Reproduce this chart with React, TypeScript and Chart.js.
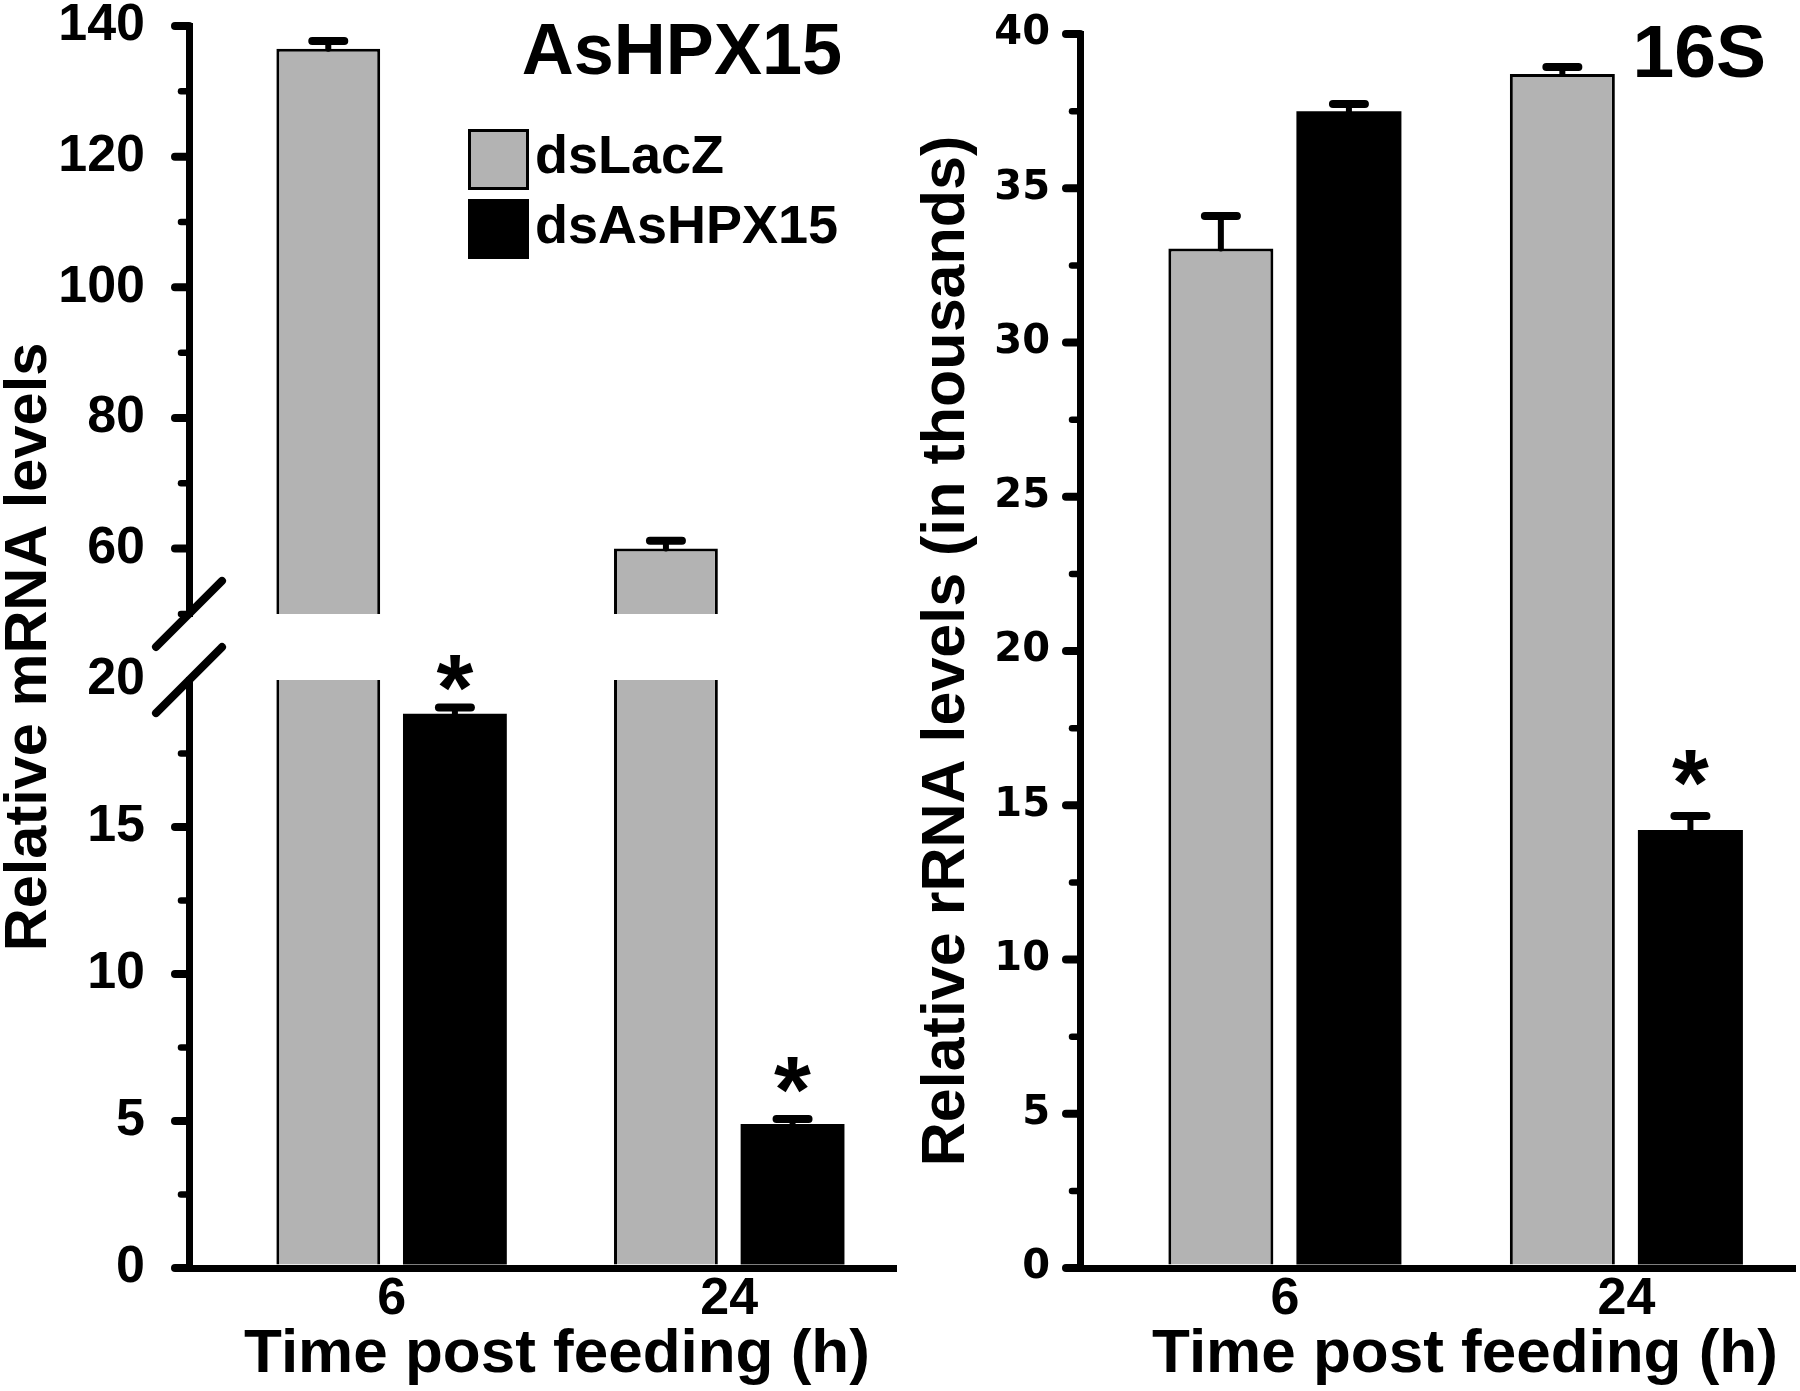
import React, { useEffect, useRef } from 'react';
import { Chart, registerables } from 'chart.js';

Chart.register(...registerables);

const FAMILY = "'Liberation Sans', Arial, Helvetica, sans-serif";
const WIDE = "'DejaVu Sans', 'Liberation Sans', sans-serif";

// ---------------- data ----------------
const categories = ['6', '24'];
const xPositions = [0, 1];
const seriesNames = ['dsLacZ', 'dsAsHPX15'];

// Left panel: AsHPX15, relative mRNA levels
const mrnaLacZ = [136.5, 60.0];
const mrnaLacZErr = [1.2, 1.2];
const mrnaHpx = [18.85, 4.9];
const mrnaHpxErr = [0.22, 0.17];
const mrnaHpxSignificant = [true, true];

// Right panel: 16S, relative rRNA levels (in thousands)
const rrnaLacZ = [33.05, 38.7];
const rrnaLacZErr = [1.05, 0.23];
const rrnaHpx = [37.5, 14.2];
const rrnaHpxErr = [0.23, 0.45];
const rrnaHpxSignificant = [false, true];

// axis ranges and tick values
const mrnaUpperRange = [50, 140];
const mrnaLowerRange = [0, 20];
const rrnaRange = [0, 40];
const mrnaUpperTicks = [60, 80, 100, 120, 140];
const mrnaUpperMinorTicks = [50, 70, 90, 110, 130];
const mrnaLowerTicks = [0, 5, 10, 15, 20];
const mrnaLowerTickMarks = [0, 5, 10, 15];
const mrnaLowerMinorTicks = [2.5, 7.5, 12.5, 17.5];
const rrnaTicks = [0, 5, 10, 15, 20, 25, 30, 35, 40];
const rrnaMinorTicks = [2.5, 7.5, 12.5, 17.5, 22.5, 27.5, 32.5, 37.5];

const panelTitles = ['AsHPX15', '16S'];
const xTitle = 'Time post feeding (h)';
const yTitles = ['Relative mRNA levels', 'Relative rRNA levels (in thousands)'];

// ---------------- styles ----------------
const GRAY = '#b3b3b3';
const BLACK = '#000000';
const AXIS_W = 7;
const TICK_LEN = 18;
const X_RANGE = [-0.6, 1.485];
const W = 900;
const H = 1391;
const X_AXIS_H = 123;

const pts = (vals: number[]) => vals.map((y, i) => ({ x: xPositions[i], y }));

function barDataset(label: string, vals: number[], yAxisID: string, stack: string, color: string, bw: number, errors: number[], marks: boolean[] | null) {
  return {
    label,
    data: pts(vals),
    yAxisID,
    xAxisID: 'x',
    stack,
    backgroundColor: color,
    borderColor: BLACK,
    borderWidth: bw,
    categoryPercentage: 0.75,
    barPercentage: 0.82,
    clip: false,
    errors,
    marks,
  };
}

// clip each dataset to its own (stacked) value-axis segment
const segmentClip = {
  id: 'segmentClip',
  beforeDatasetDraw(chart: any, args: any) {
    const ys = args.meta.yScale;
    const a = chart.chartArea;
    const ctx = chart.ctx;
    ctx.save();
    ctx.beginPath();
    ctx.rect(a.left, ys.top, a.right - a.left, ys.bottom - ys.top);
    ctx.clip();
  },
  afterDatasetDraw(chart: any) {
    chart.ctx.restore();
  },
};

function drawAsterisk(ctx: any, cx: number, cy: number, inkH: number) {
  let size = 100;
  ctx.font = `bold ${size}px ${FAMILY}`;
  let m = ctx.measureText('*');
  const h0 = m.actualBoundingBoxAscent + m.actualBoundingBoxDescent;
  size = (size * inkH) / h0;
  ctx.font = `bold ${size}px ${FAMILY}`;
  m = ctx.measureText('*');
  ctx.textAlign = 'left';
  ctx.textBaseline = 'alphabetic';
  const x = cx - (m.actualBoundingBoxRight - m.actualBoundingBoxLeft) / 2;
  const y = cy - (m.actualBoundingBoxDescent - m.actualBoundingBoxAscent) / 2;
  ctx.fillStyle = BLACK;
  ctx.fillText('*', x, y);
}

function errorBarsPlugin(markOffsets: number[]) {
  return {
    id: 'errorBars',
    afterDatasetsDraw(chart: any) {
      const ctx = chart.ctx;
      chart.data.datasets.forEach((ds: any, di: number) => {
        const meta = chart.getDatasetMeta(di);
        const ys = meta.yScale;
        ds.data.forEach((p: any, i: number) => {
          const v = p.y;
          const e = ds.errors[i];
          if (v < ys.min || v > ys.max) return;
          const el = meta.data[i];
          const x = el.x;
          const yTop = ys.getPixelForValue(v);
          const yErr = ys.getPixelForValue(v + e);
          ctx.save();
          ctx.strokeStyle = BLACK;
          ctx.lineCap = 'round';
          ctx.lineWidth = 6;
          ctx.beginPath();
          ctx.moveTo(x, yTop);
          ctx.lineTo(x, yErr);
          ctx.stroke();
          ctx.lineWidth = 8;
          ctx.beginPath();
          ctx.moveTo(x - 16, yErr);
          ctx.lineTo(x + 16, yErr);
          ctx.stroke();
          if (ds.marks && ds.marks[i]) {
            drawAsterisk(ctx, x, yErr - markOffsets[i], 36);
          }
          ctx.restore();
        });
      });
    },
  };
}

// rounded tick marks (major and minor) drawn along the value axes
function tickMarksPlugin(items: { scaleId: string; major: number[]; minor: number[] }[]) {
  return {
    id: 'tickMarks',
    afterDraw(chart: any) {
      const ctx = chart.ctx;
      ctx.save();
      ctx.strokeStyle = BLACK;
      ctx.lineCap = 'round';
      items.forEach(({ scaleId, major, minor }) => {
        const s = chart.scales[scaleId];
        const x = s.right;
        ctx.lineWidth = 8;
        major.forEach((v) => {
          const y = s.getPixelForValue(v);
          ctx.beginPath();
          ctx.moveTo(x - TICK_LEN + 4, y);
          ctx.lineTo(x, y);
          ctx.stroke();
        });
        ctx.lineWidth = 6.5;
        minor.forEach((v) => {
          const y = s.getPixelForValue(v);
          ctx.beginPath();
          ctx.moveTo(x - 8, y);
          ctx.lineTo(x, y);
          ctx.stroke();
        });
      });
      ctx.restore();
    },
  };
}

type TextItem = { text: string; x: number; y: number; size: number; align: string };

function decorPlugin(texts: TextItem[], legend: any, brk: any) {
  return {
    id: 'decor',
    afterDraw(chart: any) {
      const ctx = chart.ctx;
      ctx.save();
      ctx.fillStyle = BLACK;
      texts.forEach((t) => {
        ctx.font = `bold ${t.size}px ${FAMILY}`;
        ctx.textAlign = t.align;
        ctx.textBaseline = 'alphabetic';
        ctx.fillText(t.text, t.x, t.y);
      });
      if (legend) {
        const colors = [GRAY, BLACK];
        seriesNames.forEach((name, i) => {
          const top = legend.tops[i];
          const h = legend.heights[i];
          ctx.fillStyle = colors[i];
          ctx.fillRect(legend.x, top, legend.w, h);
          ctx.strokeStyle = BLACK;
          ctx.lineWidth = 3;
          ctx.strokeRect(legend.x + 1.5, top + 1.5, legend.w - 3, h - 3);
          ctx.fillStyle = BLACK;
          ctx.font = `bold ${legend.size}px ${FAMILY}`;
          ctx.textAlign = 'left';
          ctx.textBaseline = 'middle';
          ctx.fillText(name, legend.textX, top + h / 2 - 1);
        });
      }
      if (brk) {
        const ax = chart.chartArea.left;
        const ys = [chart.scales[brk.upper].bottom, chart.scales[brk.lower].top];
        ctx.strokeStyle = BLACK;
        ctx.lineWidth = 8;
        ctx.lineCap = 'round';
        ys.forEach((y) => {
          ctx.beginPath();
          ctx.moveTo(ax - 33, y + 33);
          ctx.lineTo(ax + 33, y - 33);
          ctx.stroke();
        });
      }
      ctx.restore();
    },
  };
}

function yAxis(range: number[], ticks: number[], width: number, font: any, padding: number, extra: any = {}) {
  return {
    type: 'linear',
    position: 'left',
    min: range[0],
    max: range[1],
    stacked: false,
    afterBuildTicks: (s: any) => {
      s.ticks = ticks.map((v) => ({ value: v }));
    },
    afterFit: (s: any) => {
      s.width = width;
      s.paddingTop = 0;
      s.paddingBottom = 0;
      s.paddingLeft = 0;
      s.paddingRight = 0;
    },
    ticks: { font, color: BLACK, padding, autoSkip: false, callback: (v: any) => String(v) },
    grid: {
      display: true,
      drawOnChartArea: false,
      drawTicks: true,
      tickLength: TICK_LEN,
      tickWidth: AXIS_W,
      tickColor: 'rgba(0,0,0,0)',
      lineWidth: AXIS_W,
      color: BLACK,
    },
    border: { display: true, width: AXIS_W, color: BLACK, z: 1 },
    ...extra,
  };
}

function xAxis() {
  return {
    type: 'linear',
    position: 'bottom',
    min: X_RANGE[0],
    max: X_RANGE[1],
    offset: false,
    afterBuildTicks: (s: any) => {
      s.ticks = xPositions.map((v) => ({ value: v }));
    },
    afterFit: (s: any) => {
      s.height = X_AXIS_H;
      s.paddingLeft = 0;
      s.paddingRight = 0;
      s.paddingTop = 0;
      s.paddingBottom = 0;
    },
    ticks: {
      font: { family: FAMILY, size: 52, weight: 'bold', lineHeight: 1 },
      color: BLACK,
      padding: 6,
      maxRotation: 0,
      minRotation: 0,
      autoSkip: false,
      callback: (v: any) => categories[xPositions.indexOf(v)] ?? '',
    },
    grid: { display: false, offset: false, drawTicks: false, lineWidth: AXIS_W },
    border: { display: true, width: AXIS_W, color: BLACK, z: 1 },
  };
}

function leftConfig(): any {
  const tickFont = { family: FAMILY, size: 52, weight: 'bold', lineHeight: 1 };
  const YW = 189;
  return {
    type: 'bar',
    data: {
      datasets: [
        barDataset(seriesNames[0], mrnaLacZ, 'yU', 'lacz', GRAY, 3, mrnaLacZErr, null),
        barDataset(seriesNames[1], mrnaHpx, 'yU', 'hpx', BLACK, 0, mrnaHpxErr, mrnaHpxSignificant),
        barDataset(seriesNames[0], mrnaLacZ, 'yL', 'lacz', GRAY, 3, mrnaLacZErr, null),
        barDataset(seriesNames[1], mrnaHpx, 'yL', 'hpx', BLACK, 0, mrnaHpxErr, mrnaHpxSignificant),
      ],
    },
    options: {
      animation: false,
      responsive: false,
      maintainAspectRatio: false,
      devicePixelRatio: 1,
      events: [],
      layout: { padding: { top: 26, right: 7, bottom: 0, left: 0 }, autoPadding: false },
      plugins: { legend: { display: false }, tooltip: { enabled: false } },
      scales: {
        x: xAxis(),
        yU: yAxis(mrnaUpperRange, mrnaUpperTicks, YW, tickFont, 26, { stack: 'mrna', stackWeight: 587, weight: 3 }),
        yG: {
          type: 'linear',
          position: 'left',
          stack: 'mrna',
          stackWeight: 66,
          weight: 2,
          min: 0,
          max: 1,
          afterFit: (s: any) => {
            s.width = YW;
            s.paddingTop = 0;
            s.paddingBottom = 0;
          },
          ticks: { display: false },
          grid: { display: false, drawTicks: false },
          border: { display: false },
          title: {
            display: true,
            text: yTitles[0],
            color: BLACK,
            font: { family: FAMILY, size: 59.5, weight: 'bold', lineHeight: 1 },
            padding: 0,
          },
        },
        yL: yAxis(mrnaLowerRange, mrnaLowerTicks, YW, tickFont, 26, {
          stack: 'mrna',
          stackWeight: 587,
          weight: 1,
        }),
      },
    },
    plugins: [
      segmentClip,
      errorBarsPlugin([34, 44]),
      tickMarksPlugin([
        { scaleId: 'yU', major: mrnaUpperTicks, minor: mrnaUpperMinorTicks },
        { scaleId: 'yL', major: mrnaLowerTickMarks, minor: mrnaLowerMinorTicks },
      ]),
      decorPlugin(
        [
          { text: panelTitles[0], x: 842, y: 74, size: 72, align: 'right' },
          { text: xTitle, x: 557, y: 1372, size: 62, align: 'center' },
        ],
        { x: 468, tops: [129, 199], heights: [61, 60], w: 61, textX: 535, size: 54 },
        { upper: 'yU', lower: 'yL' }
      ),
    ],
  };
}

function rightConfig(): any {
  const tickFont = { family: WIDE, size: 40, weight: 'bold', lineHeight: 1 };
  return {
    type: 'bar',
    data: {
      datasets: [
        barDataset(seriesNames[0], rrnaLacZ, 'y', 'lacz', GRAY, 3, rrnaLacZErr, null),
        barDataset(seriesNames[1], rrnaHpx, 'y', 'hpx', BLACK, 0, rrnaHpxErr, rrnaHpxSignificant),
      ],
    },
    options: {
      animation: false,
      responsive: false,
      maintainAspectRatio: false,
      devicePixelRatio: 1,
      events: [],
      layout: { padding: { top: 34, right: 8, bottom: 0, left: 0 }, autoPadding: false },
      plugins: { legend: { display: false }, tooltip: { enabled: false } },
      scales: {
        x: xAxis(),
        y: yAxis(rrnaRange, rrnaTicks, 180, tickFont, 12, {
          title: {
            display: true,
            text: yTitles[1],
            color: BLACK,
            font: { family: FAMILY, size: 61, weight: 'bold', lineHeight: 1 },
            padding: { top: 17, bottom: 0 },
          },
        }),
      },
    },
    plugins: [
      segmentClip,
      errorBarsPlugin([48, 48]),
      tickMarksPlugin([{ scaleId: 'y', major: rrnaTicks, minor: rrnaMinorTicks }]),
      decorPlugin(
        [
          { text: panelTitles[1], x: 866, y: 77, size: 75, align: 'right' },
          { text: xTitle, x: 565, y: 1372, size: 62, align: 'center' },
        ],
        null,
        null
      ),
    ],
  };
}

export default function App() {
  const leftRef = useRef<HTMLCanvasElement>(null);
  const rightRef = useRef<HTMLCanvasElement>(null);

  useEffect(() => {
    Chart.defaults.color = BLACK;
    Chart.defaults.font.family = FAMILY;
    const left = new Chart(leftRef.current as HTMLCanvasElement, leftConfig());
    const right = new Chart(rightRef.current as HTMLCanvasElement, rightConfig());
    return () => {
      left.destroy();
      right.destroy();
    };
  }, []);

  return (
    <div style={{ position: 'absolute', left: 0, top: 0, width: 1800, height: H, background: '#ffffff' }}>
      <canvas
        ref={leftRef}
        width={W}
        height={H}
        style={{ position: 'absolute', left: 0, top: 0, width: W, height: H }}
      />
      <canvas
        ref={rightRef}
        width={W}
        height={H}
        style={{ position: 'absolute', left: W, top: 0, width: W, height: H }}
      />
    </div>
  );
}
